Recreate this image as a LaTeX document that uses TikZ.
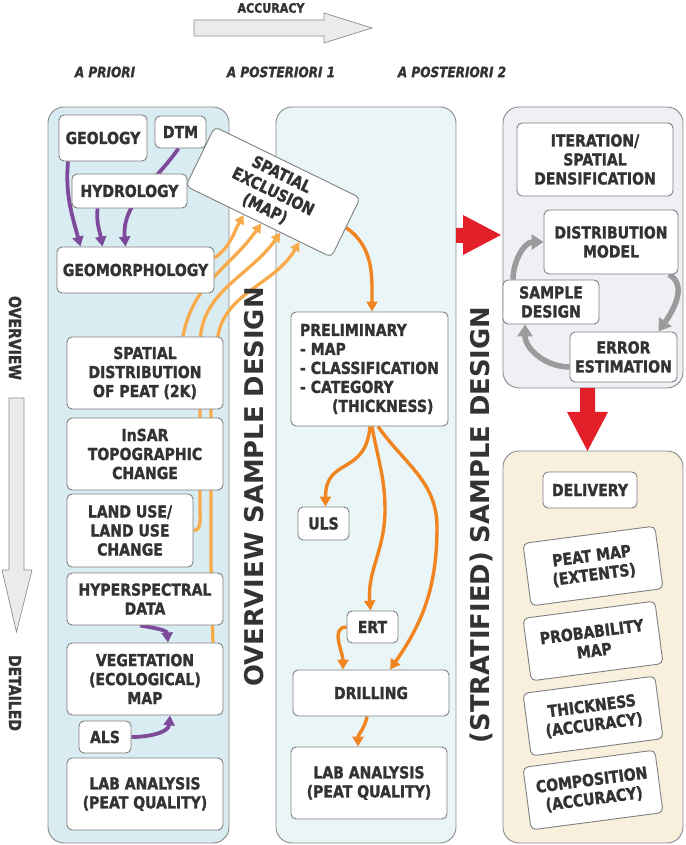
\documentclass[tikz,border=0pt]{standalone}
\usepackage{fontspec}
\newfontfamily\lblfont{DejaVu Sans}[FakeStretch=0.85, BoldFeatures={FakeBold=1.4}, BoldItalicFeatures={FakeBold=1.4}]
\newfontfamily\bigfont{DejaVu Sans}
\usetikzlibrary{arrows.meta,calc}
\pgfdeclarelayer{panels}
\pgfdeclarelayer{links}
\pgfsetlayers{panels,links,main}

\definecolor{txtgray}{HTML}{333333}
\definecolor{boxline}{HTML}{7F7F7F}
\definecolor{panelline}{HTML}{8A8A8A}
\definecolor{priorifill}{HTML}{D9ECF2}
\definecolor{postonefill}{HTML}{EAF5F8}
\definecolor{posttwofill}{HTML}{EFEFF6}
\definecolor{deliverfill}{HTML}{F8F0DD}
\definecolor{purpleln}{HTML}{7E4A9C}
\definecolor{lightorange}{HTML}{F9AB4C}
\definecolor{darkorange}{HTML}{EF8421}
\definecolor{loopgray}{HTML}{9B9B9B}
\definecolor{bigred}{HTML}{E3202A}
\definecolor{arrowfill}{HTML}{EBEBEB}
\definecolor{arrowline}{HTML}{8C8C8C}

\tikzset{
  box/.style={draw=boxline, fill=white, line width=0.9pt, rounded corners=5pt,
    inner sep=0pt, align=center, text=txtgray,
    font={\lblfont\bfseries\fontsize{16.5}{19}\selectfont}},
  panel/.style={draw=panelline, line width=0.9pt, rounded corners=16pt},
  colhead/.style={text=txtgray, font={\lblfont\bfseries\itshape\fontsize{14.2}{17}\selectfont}},
  sidelabel/.style={text=txtgray, font={\lblfont\bfseries\fontsize{16.5}{19}\selectfont}},
  bigtext/.style={text=txtgray, font={\bigfont\bfseries\fontsize{25.8}{30}\selectfont}},
  bigarrow/.style={fill=arrowfill, draw=arrowline, line width=0.7pt},
  purplink/.style={draw=purpleln, line width=3.8pt, -{Triangle[length=10pt,width=11pt]}},
  lolink/.style={draw=lightorange, line width=3.3pt, -{Triangle[length=9pt,width=10pt]}},
  dolink/.style={draw=darkorange, line width=3.4pt, -{Triangle[length=10pt,width=11pt]}},
  graylink/.style={draw=loopgray, line width=5.5pt, -{Triangle[length=12pt,width=15pt]}}
}

\begin{document}
\begin{tikzpicture}[x=1pt,y=1pt]
\useasboundingbox (0,0) rectangle (685,845);

% column panels
\begin{pgfonlayer}{panels}
  \draw[panel, fill=priorifill] (48,2) rectangle (229,738);
  \draw[panel, fill=postonefill] (276,2) rectangle (456,738);
  \draw[panel, fill=posttwofill] (503,457) rectangle (683,738);
  \draw[panel, fill=deliverfill] (503,2) rectangle (683,394);
\end{pgfonlayer}

% accuracy and overview/detailed arrows
\draw[bigarrow] (194,825) -- (324,825) -- (324,832) -- (372,817) -- (324,802) -- (324,809) -- (194,809) -- cycle;
\node[sidelabel, font={\lblfont\bfseries\fontsize{13}{15}\selectfont}] (accuracy) at (271,837) {ACCURACY};
\draw[bigarrow] (9,447) -- (24,447) -- (24,275) -- (32,275) -- (16.5,213) -- (2,275) -- (9,275) -- cycle;
\node[sidelabel, rotate=-90] (overview) at (15,507) {OVERVIEW};
\node[sidelabel, rotate=-90] (detailed) at (15,152) {DETAILED};

\node[colhead] (hprior) at (105,773) {A PRIORI};
\node[colhead] (hpostone) at (281,773) {A POSTERIORI 1};
\node[colhead] (hposttwo) at (452,773) {A POSTERIORI 2};

% a priori
\node[box, minimum width=88pt, minimum height=46pt] (geology) at (103,707) {GEOLOGY};
\node[box, minimum width=51pt, minimum height=32pt] (dtm) at (180.5,713) {DTM};
\node[box, minimum width=115pt, minimum height=34pt] (hydro) at (129.5,654) {HYDROLOGY};
\node[box, minimum width=157pt, minimum height=46pt] (geomorph) at (135.5,575) {GEOMORPHOLOGY};
\node[box, rotate=-26, minimum width=162pt, minimum height=66pt] (spexcl) at (273,653) {SPATIAL\\EXCLUSION\\(MAP)};
\node[box, minimum width=156pt, minimum height=72pt] (spdist) at (145,472) {SPATIAL\\DISTRIBUTION\\OF PEAT (2K)};
\node[box, minimum width=156pt, minimum height=72pt] (insar) at (145,391) {InSAR\\TOPOGRAPHIC\\CHANGE};
\node[box, minimum width=126pt, minimum height=73pt] (landuse) at (130,314.5) {LAND USE/\\LAND USE\\CHANGE};
\node[box, minimum width=156pt, minimum height=52pt] (hyper) at (145,246) {HYPERSPECTRAL\\DATA};
\node[box, minimum width=156pt, minimum height=72pt] (veg) at (145,166) {VEGETATION\\(ECOLOGICAL)\\MAP};
\node[box, minimum width=52pt, minimum height=32pt] (als) at (105,108) {ALS};
\node[box, minimum width=156pt, minimum height=72pt] (laba) at (145,51) {LAB ANALYSIS\\(PEAT QUALITY)};

% a posteriori 1
\node[box, align=left, minimum width=157pt, minimum height=114pt] (prelim) at (369.5,476)
  {PRELIMINARY\\- MAP\\- CLASSIFICATION\\- CATEGORY\\\hspace*{32pt}(THICKNESS)};
\node[box, minimum width=51pt, minimum height=33pt] (uls) at (323.5,321.5) {ULS};
\node[box, minimum width=51pt, minimum height=32pt] (ert) at (372.5,218) {ERT};
\node[box, minimum width=156pt, minimum height=46pt] (drill) at (371,152) {DRILLING};
\node[box, minimum width=156pt, minimum height=72pt] (labb) at (369,62) {LAB ANALYSIS\\(PEAT QUALITY)};

% a posteriori 2
\node[box, minimum width=156pt, minimum height=73pt] (iter) at (595,685.5) {ITERATION/\\SPATIAL\\DENSIFICATION};
\node[box, minimum width=134pt, minimum height=64pt] (distm) at (611,603) {DISTRIBUTION\\MODEL};
\node[box, minimum width=96pt, minimum height=44pt] (sdesign) at (551,543) {SAMPLE\\DESIGN};
\node[box, minimum width=107pt, minimum height=50pt] (errest) at (623.5,488) {ERROR\\ESTIMATION};

% delivery
\node[box, minimum width=94pt, minimum height=36pt] (deliv) at (590,355) {DELIVERY};
\node[box, rotate=7.5, minimum width=133pt, minimum height=63pt] (peatmap) at (593,279) {PEAT MAP\\(EXTENTS)};
\node[box, rotate=7.5, minimum width=133pt, minimum height=63pt] (probmap) at (593,204) {PROBABILITY\\MAP};
\node[box, rotate=7.5, minimum width=133pt, minimum height=63pt] (thick) at (593,129) {THICKNESS\\(ACCURACY)};
\node[box, rotate=7.5, minimum width=133pt, minimum height=63pt] (compos) at (593,55) {COMPOSITION\\(ACCURACY)};

% big vertical titles
\node[bigtext, rotate=90] (ovdesign) at (254,358) {OVERVIEW SAMPLE DESIGN};
\node[bigtext, rotate=90] (stdesign) at (481,320) {(STRATIFIED) SAMPLE DESIGN};

% red transfer arrows
\fill[bigred] (456,617) -- (463,617) -- (463,630) -- (501,610) -- (463,590) -- (463,602) -- (456,602) -- cycle;
\fill[bigred] (580,457) -- (595,457) -- (595,433) -- (608,433) -- (587.5,394) -- (567,433) -- (580,433) -- cycle;

\begin{pgfonlayer}{links}
  % purple
  \draw[purplink] ([xshift=-35pt]geology.south) to[out=-95,in=105] ([xshift=-55pt]geomorph.north);
  \draw[purplink] ([xshift=-32pt]hydro.south) to[out=-95,in=100] ([xshift=-33pt]geomorph.north);
  \draw[purplink] ([xshift=-2pt]dtm.south) to[out=-125,in=95] ([xshift=-10pt]geomorph.north);
  \draw[purplink] ([xshift=-5pt]hyper.south) to[out=-10,in=95] ([xshift=23pt]veg.north);
  \draw[purplink] (als.east) to[out=0,in=-95] ([xshift=25pt]veg.south);
  % light orange into the exclusion map
  \draw[lolink] ([yshift=12pt]geomorph.east) to[out=35,in=-120] ($(spexcl.south west)!0.40!(spexcl.south east)$);
  \draw[lolink] ([xshift=38pt]spdist.north) to[out=80,in=-125] ($(spexcl.south west)!0.52!(spexcl.south east)$);
  \draw[lolink] (landuse.east) to[out=0,in=-90] (200,335) -- (200,500) to[out=90,in=-125] ($(spexcl.south west)!0.65!(spexcl.south east)$);
  \draw[lolink] ([xshift=68pt]veg.north) to[out=92,in=-90] (211,300) -- (211,440) -- (217,500) to[out=88,in=-120] ($(spexcl.south west)!0.78!(spexcl.south east)$);
  % dark orange
  \draw[dolink] (spexcl.east) to[out=-35,in=90] ([xshift=2.5pt]prelim.north);
  \draw[dolink] ([xshift=0.5pt]prelim.south) to[out=-95,in=90,looseness=1.4] ([xshift=2pt]uls.north);
  \draw[dolink] ([xshift=2.5pt]prelim.south) to[out=-80,in=90] (385,335) to[out=-90,in=95] ([xshift=-2pt]ert.north);
  \draw[dolink] ([xshift=8.5pt]prelim.south) to[out=-55,in=90] (437,318) to[out=-90,in=55] ([xshift=19pt]drill.north);
  \draw[dolink] (ert.west) to[out=180,in=90] ([xshift=-28pt]drill.north);
  \draw[dolink] ([xshift=-4pt]drill.south) to[out=-100,in=90] ([xshift=-11pt]labb.north);
  % iteration loop
  \draw[graylink] ([xshift=-38pt]sdesign.north) to[out=90,in=180] (distm.west);
  \draw[graylink] ([xshift=58pt]distm.south) to[out=-30,in=55] ([xshift=35pt]errest.north);
  \draw[graylink] ([yshift=-10pt]errest.west) to[out=180,in=-90] ([xshift=-26pt]sdesign.south);
\end{pgfonlayer}
\end{tikzpicture}
\end{document}
